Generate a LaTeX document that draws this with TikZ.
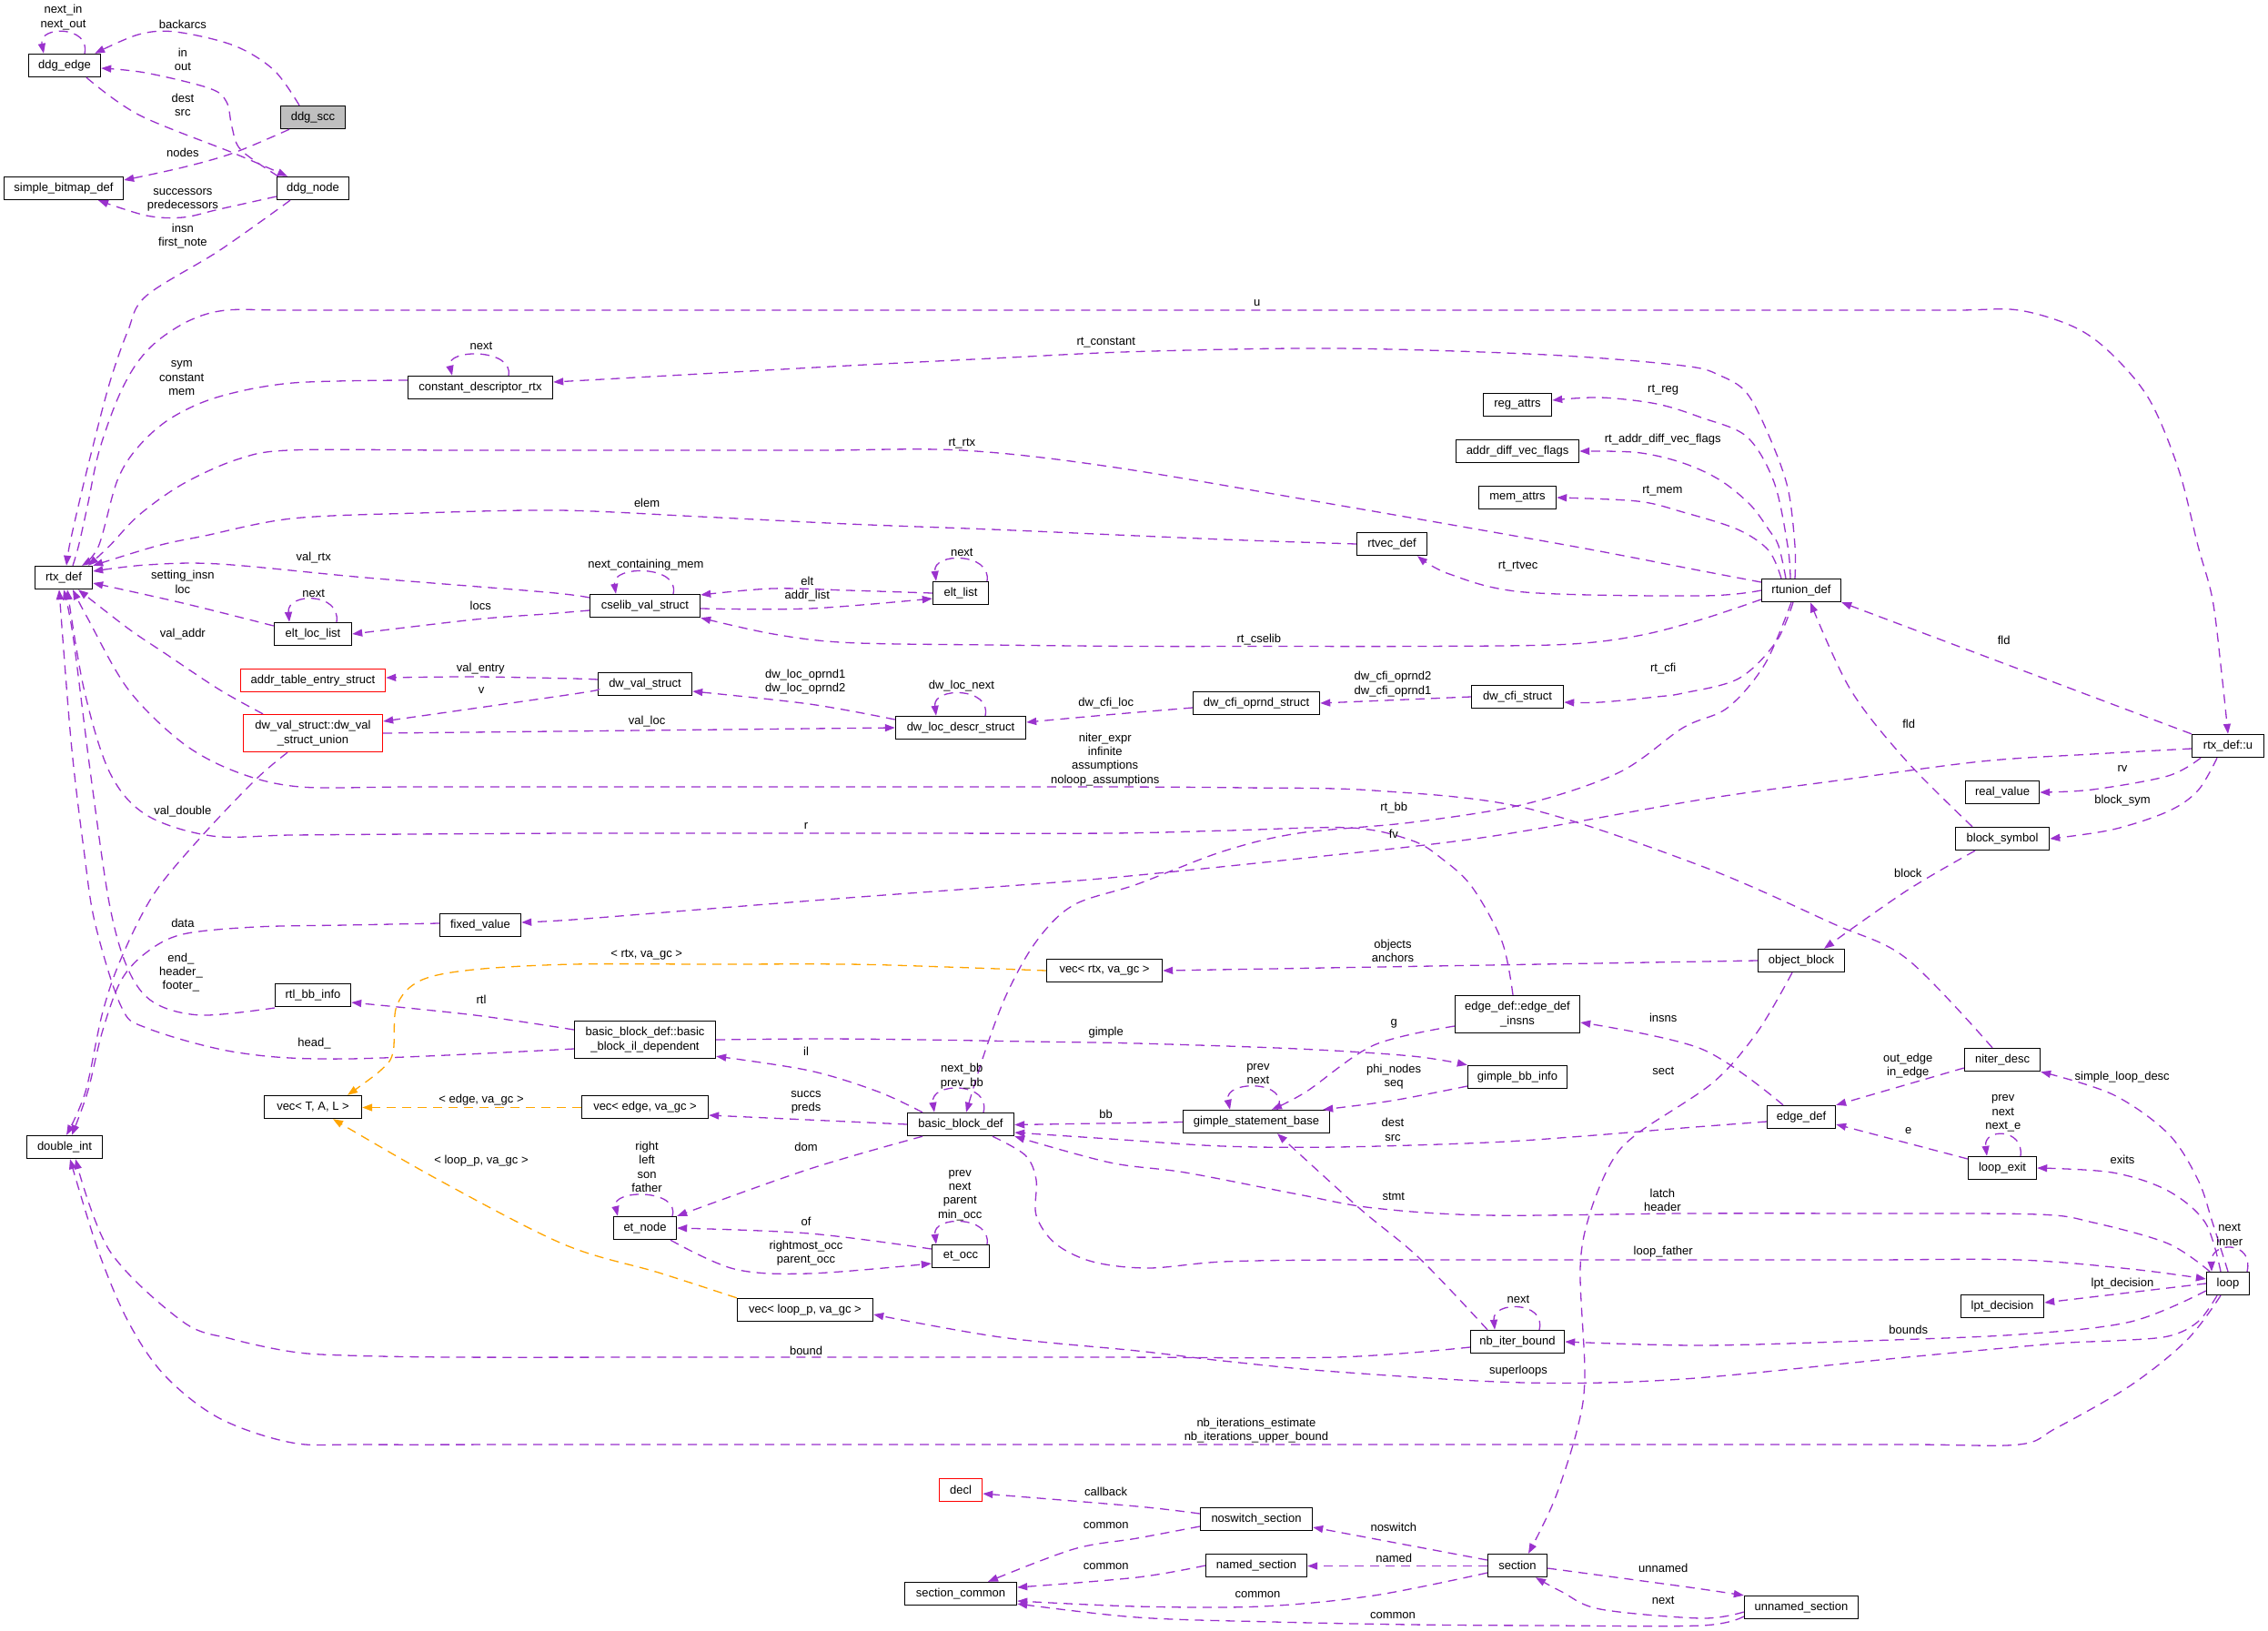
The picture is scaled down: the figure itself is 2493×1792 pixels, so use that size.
\documentclass[tikz,border=0pt]{standalone}
\usepackage{fontspec}
\setmainfont{Liberation Sans}
\usetikzlibrary{arrows.meta}
\definecolor{pc}{HTML}{9A32CD}
\definecolor{oc}{HTML}{FFA500}
\definecolor{sccgray}{HTML}{BFBFBF}
\newcommand\dxfont{\fontsize{13}{15.3}\selectfont}
\tikzset{
 bx/.style={draw=black, line width=1.4pt, fill=white, minimum height=25pt, inner xsep=3pt, inner ysep=0pt, font=\dxfont, align=center},
 rbx/.style={bx, draw=red},
 edg/.style={pc, line width=1.3pt, dash pattern=on 10pt off 7pt, -{Triangle[length=11pt,width=8pt]}},
 tmpl/.style={edg, oc},
 elab/.style={font=\dxfont, align=center, inner sep=0pt, text=black},
 sm/.style={smooth, tension=0.55}
}
\begin{document}
\begin{tikzpicture}[x=1pt,y=-1pt]
\fill[white] (0,0) rectangle (2493,1792);
\useasboundingbox (0,0) rectangle (2493,1792);

% ---------------- nodes ----------------
\node[bx, minimum width=79pt] (ddgedge) at (71,72) {ddg\_edge};
\node[bx, minimum width=71pt, fill=sccgray] (ddgscc) at (344,129) {ddg\_scc};
\node[bx, minimum width=131pt] (sbd) at (70,207) {simple\_bitmap\_def};
\node[bx, minimum width=79pt] (ddgnode) at (344,207) {ddg\_node};
\node[bx, minimum width=159pt] (cdr) at (528,426) {constant\_descriptor\_rtx};
\node[bx, minimum width=63pt] (rtx) at (70,635) {rtx\_def};
\node[bx, minimum width=75pt] (regattrs) at (1668,445) {reg\_attrs};
\node[bx, minimum width=135pt] (adv) at (1668,496) {addr\_diff\_vec\_flags};
\node[bx, minimum width=85pt] (memattrs) at (1668,547) {mem\_attrs};
\node[bx, minimum width=77pt] (rtvec) at (1530,598) {rtvec\_def};
\node[bx, minimum width=87pt] (rtunion) at (1980,649) {rtunion\_def};
\node[bx, minimum width=121pt] (cselib) at (709,666) {cselib\_val\_struct};
\node[bx, minimum width=61pt] (eltlist) at (1056,652) {elt\_list};
\node[bx, minimum width=85pt] (eltloc) at (344,697) {elt\_loc\_list};
\node[rbx, minimum width=159pt] (ates) at (344,748) {addr\_table\_entry\_struct};
\node[bx, minimum width=103pt] (dwval) at (709,752) {dw\_val\_struct};
\node[bx, minimum width=143pt] (dwloc) at (1056,800) {dw\_loc\_descr\_struct};
\node[bx, minimum width=139pt] (cfiop) at (1381,773) {dw\_cfi\_oprnd\_struct};
\node[bx, minimum width=101pt] (cfi) at (1668,766) {dw\_cfi\_struct};
\node[rbx, minimum width=153pt, minimum height=41pt] (dwunion) at (344,806) {dw\_val\_struct::dw\_val\\\_struct\_union};
\node[bx, minimum width=79pt] (rtxu) at (2449,820) {rtx\_def::u};
\node[bx, minimum width=81pt] (realv) at (2201,871) {real\_value};
\node[bx, minimum width=103pt] (bsym) at (2201,922) {block\_symbol};
\node[bx, minimum width=89pt] (fixedv) at (528,1017) {fixed\_value};
\node[bx, minimum width=95pt] (objb) at (1980,1056) {object\_block};
\node[bx, minimum width=127pt] (vecrtx) at (1214,1067) {vec< rtx, va\_gc >};
\node[bx, minimum width=83pt] (rtlbb) at (344,1094) {rtl\_bb\_info};
\node[bx, minimum width=137pt, minimum height=41pt] (edins) at (1668,1115) {edge\_def::edge\_def\\\_insns};
\node[bx, minimum width=155pt, minimum height=41pt] (bbil) at (709,1143) {basic\_block\_def::basic\\\_block\_il\_dependent};
\node[bx, minimum width=83pt] (niter) at (2201,1165) {niter\_desc};
\node[bx, minimum width=109pt] (gbb) at (1668,1184) {gimple\_bb\_info};
\node[bx, minimum width=107pt] (vectal) at (344,1217) {vec< T, A, L >};
\node[bx, minimum width=139pt] (vecedge) at (709,1217) {vec< edge, va\_gc >};
\node[bx, minimum width=75pt] (edgedef) at (1980,1228) {edge\_def};
\node[bx, minimum width=161pt] (gsb) at (1381,1233) {gimple\_statement\_base};
\node[bx, minimum width=117pt] (bbd) at (1056,1236) {basic\_block\_def};
\node[bx, minimum width=83pt] (dint) at (71,1261) {double\_int};
\node[bx, minimum width=75pt] (lexit) at (2201,1284) {loop\_exit};
\node[bx, minimum width=69pt] (etnode) at (709,1350) {et\_node};
\node[bx, minimum width=63pt] (etocc) at (1056,1381) {et\_occ};
\node[bx, minimum width=47pt] (loop) at (2449,1411) {loop};
\node[bx, minimum width=91pt] (lpt) at (2201,1436) {lpt\_decision};
\node[bx, minimum width=149pt] (vecloop) at (885,1440) {vec< loop\_p, va\_gc >};
\node[bx, minimum width=103pt] (nbib) at (1668,1475) {nb\_iter\_bound};
\node[rbx, minimum width=47pt] (decl) at (1056,1638) {decl};
\node[bx, minimum width=123pt] (noswitch) at (1381,1670) {noswitch\_section};
\node[bx, minimum width=111pt] (named) at (1381,1721) {named\_section};
\node[bx, minimum width=65pt] (section) at (1668,1721) {section};
\node[bx, minimum width=123pt] (seccommon) at (1056,1752) {section\_common};
\node[bx, minimum width=125pt] (unnamed) at (1980,1767) {unnamed\_section};

% ---------------- edges ----------------
% ddg group
\draw[edg] ([xshift=22pt]ddgedge.north) .. controls (100,28) and (42,28) .. ([xshift=-23pt]ddgedge.north);
\draw[edg] plot[sm] coordinates {([xshift=-15pt]ddgscc.north) (301,77) (257,50) (193,35) (152,38) ([xshift=-7pt]ddgedge.north east)};
\draw[edg] plot[sm] coordinates {([xshift=2pt]ddgnode.north west) (265,165) (255,140) (249,112) (230,97) (160,80) ([yshift=-3pt]ddgedge.east)};
\draw[edg] plot[sm] coordinates {([xshift=24pt]ddgedge.south) (152.7,126.3) (257,168.4) ([xshift=-28pt]ddgnode.north)};
\draw[edg] plot[sm] coordinates {([xshift=-26pt]ddgscc.south) (257,168) (201,184) ([yshift=9pt]sbd.east)};
\draw[edg] plot[sm] coordinates {([yshift=-9pt]ddgnode.west) (241,230) (201,239) (161,237) ([xshift=38pt]sbd.south)};
\draw[edg] plot[sm] coordinates {([xshift=-25pt]ddgnode.south) (241,275.5) (160.7,325.3) (140.6,363.6) (120.5,421) (100.4,497.5) (86.4,555) (76.3,600) ([xshift=3pt]rtx.north)};

% constant descriptor
\draw[edg] plot[sm] coordinates {([yshift=8pt]cdr.west) (321.4,421) (241,436) (189,459) (153,490) (129,528) (108.5,600) ([xshift=20pt]rtx.north)};
\draw[edg] ([xshift=31pt]cdr.north) .. controls (565,383) and (490,383) .. ([xshift=-31pt]cdr.north);
\draw[edg] plot[sm] coordinates {([xshift=-7pt]rtunion.north) (1973,600) (1965,536) (1944,478) (1920,432) (1891,413) (1850,402) (1700,390) (1469,383) (1250,386.5) (1090,394) (932,402) (770,411) ([yshift=6pt]cdr.east)};

% u
\draw[edg] plot[sm] coordinates {([xshift=10pt]rtx.north) (86.4,600) (96.4,555) (108.5,497.5) (128.6,440) (148.7,401.8) (172.8,375) (209,352) (249,341) (320,341) (500,341) (750,341) (1000,341) (1250,341) (1500,341) (1750,341) (2000,341) (2150,341) (2219,341) (2281,360) (2322,390) (2363,440) (2395,517) (2416,600) (2432,659) (2442,740) (rtxu.north)};

% rtunion group
\draw[edg] plot[sm] coordinates {([yshift=9pt]rtunion.west) (1870,627.5) (1726,600) (1469,555) (1220,513) (1057,495) (900,495) (700,495) (500,495) (321.4,494.8) (261,505) (201,532) (153,566) (120.5,600) ([xshift=27pt]rtx.north)};
\draw[edg] plot[sm] coordinates {(rtvec.west) (1370,594) (1250,589) (1090,582) (932,576) (770,568) (615,561) (460,564) (321,570) (225,589) (173,600) (rtx.north east)};
\draw[edg] plot[sm] coordinates {([xshift=-12pt]rtunion.north) (1965,600) (1950,530) (1920,480) (1870,459) (1821,444) (1759,437) ([yshift=5pt]regattrs.east)};
\draw[edg] plot[sm] coordinates {([xshift=-17pt]rtunion.north) (1955,600) (1944,582) (1924,555) (1891,528) (1850,509) (1800,497.5) (adv.east)};
\draw[edg] plot[sm] coordinates {([xshift=-22pt]rtunion.north) (1944,605) (1910,582) (1850,563) (1800,551) (memattrs.east)};
\draw[edg] plot[sm] coordinates {(rtunion.west) (1870,655) (1676,651) (1593,631) ([xshift=28pt]rtvec.south)};
\draw[edg] plot[sm] coordinates {([yshift=-10pt]rtunion.west) (1870,681) (1800,699) (1718,708.5) (1560,710.5) (1400,710.5) (1250,710.5) (1090,709) (932,706.5) (850,697) (cselib.south east)};
\draw[edg] plot[sm] coordinates {([xshift=-9pt]rtunion.south) (1952,706) (1911,746) (1850,762) (1821,766) (1759,772) ([yshift=-6pt]cfi.east)};
\draw[edg] plot[sm] coordinates {([xshift=-11pt]rtunion.south) (1940,730) (1899,778) (1850,800) (1780,849) (1676,884) (1552,904) (1427,916) (1344,936) (1250,972) (1180,995) (1139,1035) (1106,1094) (1081,1161) ([xshift=6pt]bbd.north)};

% cselib group
\draw[edg] plot[sm] coordinates {([yshift=9pt]cselib.west) (600,651) (402,635) (241,620) (161,621) ([yshift=7pt]rtx.east)};
\draw[edg] plot[sm] coordinates {([yshift=9pt]eltloc.west) (201,663) ([yshift=-6pt]rtx.east)};
\draw[edg] ([xshift=26pt]eltloc.north) .. controls (375,651) and (315,651) .. ([xshift=-26pt]eltloc.north);
\draw[edg] plot[sm] coordinates {([yshift=-5pt]cselib.west) (600,675) (522,681) (eltloc.east)};
\draw[edg] ([xshift=31pt]cselib.north) .. controls (748,621) and (672,621) .. ([xshift=-32pt]cselib.north);
\draw[edg] plot[sm] coordinates {(eltlist.west) (932,649) (849,647) ([yshift=12pt]cselib.east)};
\draw[edg] plot[sm] coordinates {([yshift=-3pt]cselib.east) (890,669) ([yshift=-6pt]eltlist.west)};
\draw[edg] ([xshift=29pt]eltlist.north) .. controls (1090,607) and (1025,607) .. ([xshift=-27pt]eltlist.north);

% dwarf group
\draw[edg] plot[sm] coordinates {([xshift=-55pt]dwunion.north) (241,758) (181,718) (141,691) ([xshift=16pt]rtx.south)};
\draw[edg] plot[sm] coordinates {([yshift=5pt]dwval.west) (630,746) (522,744) ([yshift=3pt]ates.east)};
\draw[edg] plot[sm] coordinates {([yshift=-6pt]dwval.west) (630,763) ([yshift=13pt]dwunion.east)};
\draw[edg] (dwunion.east) -- (dwloc.west);
\draw[edg] plot[sm] coordinates {([yshift=9pt]dwloc.west) (890,774) ([yshift=-8pt]dwval.east)};
\draw[edg] ([xshift=27pt]dwloc.north) .. controls (1090,755) and (1025,755) .. ([xshift=-27pt]dwloc.north);
\draw[edg] plot[sm] coordinates {([yshift=-5pt]cfiop.west) (1220,785.6) ([yshift=6pt]dwloc.east)};
\draw[edg] (cfi.west) -- (cfiop.east);

% rtx_def::u group
\draw[edg] (rtxu.north west) -- (rtunion.south east);
\draw[edg] plot[sm] coordinates {([xshift=-33pt]bsym.north) (2096,837) (2034,758) ([xshift=10pt]rtunion.south)};
\draw[edg] plot[sm] coordinates {([xshift=-30pt]rtxu.south) (2383,853) (2300,868) (realv.east)};
\draw[edg] plot[sm] coordinates {([xshift=-12pt]rtxu.south) (2416,869) (2383,892) (2322,912) (bsym.east)};
\draw[edg] plot[sm] coordinates {([xshift=-30pt]bsym.south) (2096,979) ([xshift=25pt]objb.north)};
\draw[edg] plot[sm] coordinates {([yshift=-3pt]rtxu.west) (2300,829) (2178,837) (2020,858) (1870,879) (1635,920) (1427,944) (1220,965) (1080,976) (932,987) (780,999) (630,1011) ([yshift=3pt]fixedv.east)};

% long ones into rtx_def bottom
\draw[edg] plot[sm] coordinates {([xshift=-11pt]niter.north) (2096,1054) (2014,1015) (1870,952) (1676,888) (1510,869) (1370,866) (1220,865) (1000,865) (800,865) (630,865) (450,865) (330,865) (261,849) (201,817) (141,758) (96,679) ([xshift=10pt]rtx.south)};
\draw[edg] plot[sm] coordinates {([xshift=-5pt]edins.north) (1651,1035) (1618,975) (1585,944) (1552,924) (1485,910) (1350,913) (1220,916) (1000,916) (800,916) (630,916) (450,917) (320,918) (233,919) (161,896) (120.5,849) (92.4,758) ([xshift=4pt]rtx.south)};
\draw[edg] plot[sm] coordinates {([yshift=-14pt]rtlbb.west) (221,1116) (169,1102) (141,1066) (120.5,995) (100.4,857) (80.4,700) (rtx.south)};
\draw[edg] plot[sm] coordinates {([yshift=-10pt]bbil.west) (382,1164) (261,1157) (161,1130) (133,1106) (104.5,1015) (92.4,936) (78.3,817) ([xshift=-5pt]rtx.south)};

% double_int top
\draw[edg] plot[sm] coordinates {([yshift=2pt]fixedv.west) (380,1017) (281,1019) (201,1027) (161,1047) (133,1078) (112.5,1134) (96.4,1200) ([xshift=8pt]dint.north)};
\draw[edg] plot[sm] coordinates {([xshift=-28pt]dwunion.south) (281,857) (221,920) (169,983) (133,1054) (112.5,1114) (94,1200) ([xshift=2pt]dint.north)};

% bb il group
\draw[edg] plot[sm] coordinates {([yshift=11pt]bbil.west) (522,1116) ([yshift=-8pt]rtlbb.east)};
\draw[edg] (objb.west) -- (vecrtx.east);
\draw[tmpl] plot[sm] coordinates {(vecrtx.west) (1040,1063) (932,1060) (780,1060) (630,1060) (520,1066) (462,1078) (436,1106) (432,1157) (418,1177) ([xshift=38pt]vectal.north)};
\draw[edg] plot[sm] coordinates {(bbil.east) (900,1142) (1015,1143) (1130,1145) (1250,1147) (1427,1153) (1552,1161) (gbb.north west)};
\draw[edg] plot[sm] coordinates {([xshift=-42pt]bbd.north) (965,1200) (890,1177) ([yshift=3pt]bbil.south east)};
\draw[edg] ([xshift=25pt]bbd.north) .. controls (1090,1189) and (1022,1189) .. ([xshift=-29pt]bbd.north);
\draw[edg] (bbd.west) -- ([yshift=-9pt]vecedge.east);
\draw[tmpl] ([yshift=-0.5pt]vecedge.west) -- ([yshift=-0.5pt]vectal.east);
\draw[edg] plot[sm] coordinates {([xshift=-42pt]bbd.south) (890,1285) (etnode.north east)};
\draw[edg] ([xshift=30pt]etnode.north) .. controls (748,1307) and (672,1307) .. ([xshift=-30pt]etnode.north);
\draw[edg] plot[sm] coordinates {([yshift=8pt]etocc.west) (890,1356) (etnode.east)};
\draw[edg] plot[sm] coordinates {([xshift=28pt]etnode.south) (807,1395) (890,1400) ([yshift=-8pt]etocc.west)};
\draw[edg] ([xshift=29pt]etocc.north) .. controls (1090,1336) and (1025,1336) .. ([xshift=-27pt]etocc.north);
\draw[tmpl] plot[sm] coordinates {(vecloop.north west) (724,1399) (620,1368) (482,1297) ([xshift=22pt]vectal.south)};

% gimple
\draw[edg] plot[sm] coordinates {([yshift=-13pt]edins.west) (1510,1149) (1436,1200) ([xshift=17pt]gsb.north)};
\draw[edg] ([xshift=23pt]gsb.north) .. controls (1420,1187) and (1345,1187) .. ([xshift=-29pt]gsb.north);
\draw[edg] plot[sm] coordinates {([yshift=-10pt]gbb.west) (1530,1210) ([xshift=-8pt]gsb.north east)};
\draw[edg] ([yshift=-0.5pt]gsb.west) -- ([yshift=-0.5pt]bbd.east);

% edge_def / loop
\draw[edg] plot[sm] coordinates {([yshift=-5pt]edgedef.west) (1850,1240) (1740,1249) (1635,1256) (1469,1261) (1344,1260) (1220,1252) ([yshift=-9pt]bbd.east)};
\draw[edg] plot[sm] coordinates {([xshift=-20pt]edgedef.north) (1870,1153) ([yshift=-9pt]edins.east)};
\draw[edg] plot[sm] coordinates {([xshift=-10pt]objb.south) (1932,1134) (1883,1190) (1800,1246) (1771,1278) (1747,1336) (1737,1395) (1742,1512) (1734,1570) (1709,1648) ([xshift=12pt]section.north)};
\draw[edg] ([yshift=-9pt]niter.west) -- (edgedef.north east);
\draw[edg] plot[sm] coordinates {(loop.north) (2432,1344) (2416,1297) (2383,1246) (2322,1203) (niter.south east)};
\draw[edg] ([yshift=10pt]lexit.west) -- ([yshift=-8pt]edgedef.east);
\draw[edg] ([xshift=20pt]lexit.north) .. controls (2225,1240) and (2180,1240) .. ([xshift=-17pt]lexit.north);
\draw[edg] plot[sm] coordinates {([xshift=-8pt]loop.north) (2424,1344) (2383,1309) (2322,1289) (lexit.east)};
\draw[edg] plot[sm] coordinates {([xshift=-33pt]nbib.north) (1560,1383) (1494,1328) ([xshift=23pt]gsb.south)};
\draw[edg] plot[sm] coordinates {([xshift=-20pt]loop.north) (2383,1367) (2301,1344) (2240,1335) (2050,1334) (1850,1334) (1635,1336) (1510,1328) (1427,1313) (1303,1289) (1220,1278) (bbd.south east)};
\draw[edg] plot[sm] coordinates {([xshift=35pt]bbd.south) (1127,1270) (1139,1297) (1139,1336) (1160,1367) (1201,1387) (1262,1394) (1344,1387) (1469,1385) (1650,1385) (1850,1385) (2050,1385) (2219,1385) (2342,1395) ([yshift=5pt]loop.west)};
\draw[edg] ([xshift=21pt]loop.north) .. controls (2478,1364) and (2430,1364) .. ([xshift=-18pt]loop.north);
\draw[edg] (loop.west) -- ([yshift=4pt]lpt.east);
\draw[edg] plot[sm] coordinates {([yshift=-8pt]loop.west) (2342,1453) (2219,1467) (2050,1474) (1870,1479) (nbib.east)};
\draw[edg] ([xshift=24pt]nbib.north) .. controls (1700,1430) and (1640,1430) .. ([xshift=-25pt]nbib.north);
\draw[edg] plot[sm] coordinates {([yshift=-6pt]nbib.west) (1469,1492) (1220,1492) (1000,1492) (750,1492) (500,1492) (380,1490) (321,1486) (255,1472) (201,1453) (120.5,1375) ([xshift=12pt]dint.south)};
\draw[edg] plot[sm] coordinates {([xshift=-12pt]loop.south) (2416,1453) (2383,1469) (2322,1474) (2260,1477) (2096,1492) (1850,1516) (1676,1520) (1469,1508) (1344,1496) (1250,1485) (1100,1470) ([yshift=-5pt]vecloop.east)};
\draw[edg] plot[sm] coordinates {([xshift=-8pt]loop.south) (2404,1473) (2342,1523) (2260,1570) (2219,1588) (2100,1588) (1850,1588) (1600,1588) (1350,1588) (1100,1588) (850,1588) (600,1588) (400,1588) (321,1586) (241,1559) (181,1512) (141,1453) (108,1375) ([xshift=6pt]dint.south)};

% sections
\draw[edg] plot[sm] coordinates {([yshift=6pt]noswitch.west) (1250,1656) ([yshift=-4pt]decl.east)};
\draw[edg] plot[sm] coordinates {([yshift=-8pt]noswitch.west) (1250,1691) (1180,1703) ([xshift=30pt]seccommon.north)};
\draw[edg] plot[sm] coordinates {(named.west) (1250,1734) ([yshift=7pt]seccommon.east)};
\draw[edg] ([yshift=6pt]section.west) -- ([yshift=-9pt]noswitch.east);
\draw[edg] ([yshift=-0.5pt]section.west) -- ([yshift=-0.5pt]named.east);
\draw[edg] plot[sm] coordinates {([yshift=-8pt]section.west) (1510,1754) (1386,1766) (1250,1766) ([yshift=-8pt]seccommon.east)};
\draw[edg] plot[sm] coordinates {([yshift=-3pt]section.east) (1850,1744) (unnamed.north west)};
\draw[edg] plot[sm] coordinates {([yshift=-5pt]unnamed.west) (1870,1779) (1759,1769) (1717,1750) ([xshift=20pt]section.south)};
\draw[edg] plot[sm] coordinates {([yshift=-10pt]unnamed.west) (1870,1787) (1700,1787) (1552,1786) (1400,1783) (1250,1778) ([yshift=-11pt]seccommon.east)};

% ---------------- labels ----------------
\node[elab] (l1) at (69.5,19) {next\_in\\next\_out};
\node[elab] (l2) at (200.9,26.8) {backarcs};
\node[elab] (l3) at (200.9,65.6) {in\\out};
\node[elab] (l4) at (200.9,115.2) {dest\\src};
\node[elab] (l5) at (200.9,167.6) {nodes};
\node[elab] (l6) at (200.9,220) {successors\\predecessors};
\node[elab] (l7) at (200.9,259.3) {insn\\first\_note};
\node[elab] (l8) at (199.7,415.8) {sym\\constant\\mem};
\node[elab] (l9) at (529,380.8) {next};
\node[elab] (l10) at (1215.7,377) {rt\_constant};
\node[elab] (l11) at (1381.7,333) {u};
\node[elab] (l12) at (1057.3,487.9) {rt\_rtx};
\node[elab] (l13) at (711.1,553) {elem};
\node[elab] (l14) at (1828.2,428.6) {rt\_reg};
\node[elab] (l15) at (1827.7,483.3) {rt\_addr\_diff\_vec\_flags};
\node[elab] (l16) at (1827.4,539.6) {rt\_mem};
\node[elab] (l17) at (1668.6,622.7) {rt\_rtvec};
\node[elab] (l18) at (344.7,612.8) {val\_rtx};
\node[elab] (l19) at (200.9,639.9) {setting\_insn\\loc};
\node[elab] (l20) at (344.7,652) {next};
\node[elab] (l21) at (528.3,666.2) {locs};
\node[elab] (l22) at (709.9,620.7) {next\_containing\_mem};
\node[elab] (l23) at (887.3,647.8) {elt\\addr\_list};
\node[elab] (l24) at (1057.3,606.9) {next};
\node[elab] (l25) at (1383.8,702.6) {rt\_cselib};
\node[elab] (l26) at (200.9,696.6) {val\_addr};
\node[elab] (l27) at (528.3,735.4) {val\_entry};
\node[elab] (l28) at (529,759.1) {v};
\node[elab] (l29) at (711.1,792.7) {val\_loc};
\node[elab] (l30) at (885.2,749.5) {dw\_loc\_oprnd1\\dw\_loc\_oprnd2};
\node[elab] (l31) at (1056.9,754.4) {dw\_loc\_next};
\node[elab] (l32) at (1215.7,772.6) {dw\_cfi\_loc};
\node[elab] (l33) at (1531,752.2) {dw\_cfi\_oprnd2\\dw\_cfi\_oprnd1};
\node[elab] (l34) at (1828.2,735.4) {rt\_cfi};
\node[elab] (l35) at (2202.7,703.4) {fld};
\node[elab] (l36) at (2098.1,795.5) {fld};
\node[elab] (l37) at (2333,844.9) {rv};
\node[elab] (l38) at (2333,880.5) {block\_sym};
\node[elab] (l39) at (2097.3,959.6) {block};
\node[elab] (l40) at (1214.7,834.9) {niter\_expr\\infinite\\assumptions\\noloop\_assumptions};
\node[elab] (l41) at (886.1,908.2) {r};
\node[elab] (l42) at (1532.2,888.4) {rt\_bb};
\node[elab] (l43) at (1531.8,916.5) {fv};
\node[elab] (l44) at (200.9,1015) {data};
\node[elab] (l45) at (200.9,892.4) {val\_double};
\node[elab] (l46) at (198.9,1068.9) {end\_\\header\_\\footer\_};
\node[elab] (l47) at (529,1099.2) {rtl};
\node[elab] (l48) at (345.5,1147.4) {head\_};
\node[elab] (l49) at (1531,1045.6) {objects\\anchors};
\node[elab] (l50) at (710.7,1049.4) {< rtx, va\_gc >};
\node[elab] (l51) at (1215.7,1135.6) {gimple};
\node[elab] (l52) at (886,1155.3) {il};
\node[elab] (l53) at (1057.3,1183) {next\_bb\\prev\_bb};
\node[elab] (l54) at (886,1212) {succs\\preds};
\node[elab] (l55) at (529,1209.3) {< edge, va\_gc >};
\node[elab] (l56) at (886,1260.8) {dom};
\node[elab] (l57) at (711.1,1282.8) {right\\left\\son\\father};
\node[elab] (l58) at (886,1343.2) {of};
\node[elab] (l59) at (886,1377.7) {rightmost\_occ\\parent\_occ};
\node[elab] (l60) at (1055.2,1313.9) {prev\\next\\parent\\min\_occ};
\node[elab] (l61) at (529,1276.4) {< loop\_p, va\_gc >};
\node[elab] (l62) at (1532.2,1125.7) {g};
\node[elab] (l63) at (1382.9,1180.4) {prev\\next};
\node[elab] (l64) at (1532.2,1183.4) {phi\_nodes\\seq};
\node[elab] (l65) at (1215.7,1224.9) {bb};
\node[elab] (l66) at (1530.9,1241.7) {dest\\src};
\node[elab] (l67) at (1828.2,1118.6) {insns};
\node[elab] (l68) at (1828.2,1177.1) {sect};
\node[elab] (l69) at (2097.3,1171.3) {out\_edge\\in\_edge};
\node[elab] (l70) at (2332.7,1183.8) {simple\_loop\_desc};
\node[elab] (l71) at (2097.7,1243.2) {e};
\node[elab] (l72) at (2201.8,1223.8) {prev\\next\\next\_e};
\node[elab] (l73) at (2333,1274.8) {exits};
\node[elab] (l74) at (1531.8,1315.8) {stmt};
\node[elab] (l75) at (1827.4,1319.2) {latch\\header};
\node[elab] (l76) at (1828.2,1376.3) {loop\_father};
\node[elab] (l77) at (2450.7,1357.4) {next\\inner};
\node[elab] (l78) at (2333,1410.7) {lpt\_decision};
\node[elab] (l79) at (2097.7,1462.2) {bounds};
\node[elab] (l80) at (1669,1428.6) {next};
\node[elab] (l81) at (886.1,1484.4) {bound};
\node[elab] (l82) at (1669,1506.7) {superloops};
\node[elab] (l83) at (1380.9,1572.3) {nb\_iterations\_estimate\\nb\_iterations\_upper\_bound};
\node[elab] (l84) at (1215.7,1639.8) {callback};
\node[elab] (l85) at (1215.7,1676.9) {common};
\node[elab] (l86) at (1215.7,1722.5) {common};
\node[elab] (l87) at (1531.8,1678.4) {noswitch};
\node[elab] (l88) at (1532.2,1712.8) {named};
\node[elab] (l89) at (1382.5,1752.6) {common};
\node[elab] (l90) at (1828.2,1723.7) {unnamed};
\node[elab] (l91) at (1828.2,1759.6) {next};
\node[elab] (l92) at (1531,1776) {common};
\end{tikzpicture}
\end{document}
